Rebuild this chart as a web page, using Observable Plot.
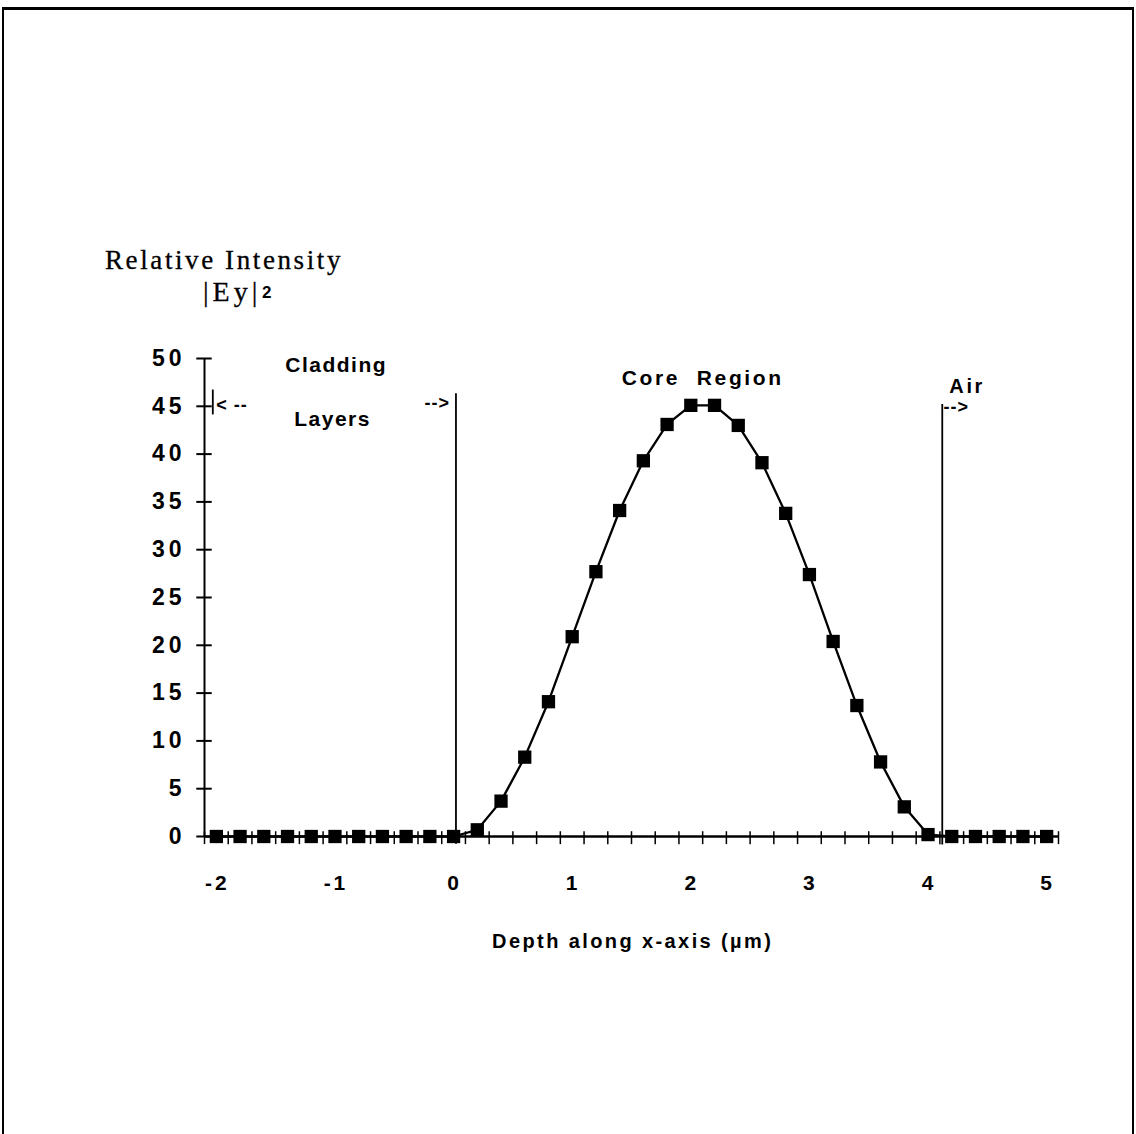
<!DOCTYPE html>
<html><head><meta charset="utf-8">
<script src="https://cdn.jsdelivr.net/npm/d3@7"></script>
<script src="https://cdn.jsdelivr.net/npm/@observablehq/plot@0.6"></script>
<style>
html,body{margin:0;padding:0;background:#fff;}
#wrap{position:relative;width:1136px;height:1134px;overflow:hidden;background:#fff;}
#border{position:absolute;left:2px;top:7px;width:1132px;height:1140px;border-top:3px solid #000;border-left:2px solid #000;border-right:2px solid #000;box-sizing:border-box;pointer-events:none;}
#header{position:relative;height:330px;}
.t{position:absolute;white-space:pre;line-height:1;color:#000;}
#title{font-family:"Liberation Serif",serif;font-size:27px;letter-spacing:2.6px;left:105px;top:247px;-webkit-text-stroke:0.3px #000;}
#ey{font-family:"Liberation Serif",serif;font-size:28px;letter-spacing:4px;left:203px;top:278px;-webkit-text-stroke:0.3px #000;}
#sq{font-family:"Liberation Sans",Arial,sans-serif;font-size:17px;font-weight:bold;left:262px;top:284px;}
g[aria-description="ylabels"] text{letter-spacing:4px;}
g[aria-description="xlabels"] text{letter-spacing:3px;}
g[aria-description="clad"] text{letter-spacing:1.5px;}
g[aria-description="core"] text{letter-spacing:2.6px;}
g[aria-description="air"] text{letter-spacing:2.6px;}
g[aria-description="arrows"] text{letter-spacing:1px;}
g[aria-description="xtitle"] text{letter-spacing:2.4px;}
</style>
</head><body>
<div id="wrap">
  <div id="header">
    <span class="t" id="title">Relative Intensity</span>
    <span class="t" id="ey">|Ey|</span>
    <span class="t" id="sq">2</span>
  </div>
  <div id="chart"></div>
  <div id="border"></div>
</div>
<script>
// Data
const depth = [-2.0,-1.8,-1.6,-1.4,-1.2,-1.0,-0.8,-0.6,-0.4,-0.2,0.0,
  0.2,0.4,0.6,0.8,1.0,1.2,1.4,1.6,1.8,2.0,2.2,2.4,2.6,2.8,3.0,3.2,3.4,3.6,3.8,4.0,
  4.2,4.4,4.6,4.8,5.0];
const intensity = [0,0,0,0,0,0,0,0,0,0,0,
  0.7,3.7,8.3,14.1,20.9,27.7,34.1,39.3,43.1,45.1,45.1,43.0,39.1,33.8,27.4,20.4,13.7,7.8,3.1,0.2,
  0,0,0,0,0];
const xTickLabels = [-2,-1,0,1,2,3,4,5];
const yTickValues = [0,5,10,15,20,25,30,35,40,45,50];
const xMinorTicks = [-2.1,-1.9,-1.7,-1.5,-1.3,-1.1,-0.9,-0.7,-0.5,-0.3,-0.1,
  0.1,0.3,0.5,0.7,0.9,1.1,1.3,1.5,1.7,1.9,2.1,2.3,2.5,2.7,2.9,3.1,3.3,3.5,3.7,3.9,
  4.1,4.3,4.5,4.7,4.9,5.1];
const xLabel = "Depth along x-axis (\u00b5m)";

// Region annotations
const claddingNotes = [
  {text: "Cladding", x: -0.99, y: 49.3},
  {text: "Layers", x: -1.02, y: 43.6}
];
const coreNotes = [{text: "Core  Region", x: 2.10, y: 47.9}];
const airNotes = [{text: "Air", x: 4.33, y: 47.1}];
const leftArrows = [{text: "< --", x: -2.0, y: 45.1}, {text: "-->", x: 4.13, y: 44.9}];
const rightArrows = [{text: "-->", x: -0.03, y: 45.3}];
const boundaries = [
  {x: 0.02, y1: -0.8, y2: 46.3},
  {x: 4.12, y1: -0.9, y2: 45.2},
  {x: -2.03, y1: 44.1, y2: 46.7}
];
// axis geometry (in data units)
const axisX0 = -2.1, axisX1 = 5.1;
const yTickSpan = {x1: -2.165, x2: -2.035};
const xTickSpan = {y1: -0.85, y2: 0.5};

const data = depth.map((d, i) => ({depth: d, value: intensity[i]}));
const ink = {fill: "#000", fontWeight: "bold"};

const chart = Plot.plot({
  width: 1136,
  height: 804,
  marginLeft: 204,
  marginRight: 78,
  marginTop: 28,
  marginBottom: 298,
  x: {domain: [axisX0, axisX1], axis: null},
  y: {domain: [0, 50], axis: null},
  style: {fontFamily: "'Liberation Sans', Arial, sans-serif", color: "#000", background: "#fff", overflow: "visible"},
  marks: [
    Plot.ruleY([0], {x1: axisX0, x2: axisX1, stroke: "#000", strokeWidth: 2.5}),
    Plot.ruleX([axisX0], {y1: 0, y2: 50, stroke: "#000", strokeWidth: 2}),
    Plot.ruleX(xMinorTicks, {x: d => d, y1: xTickSpan.y1, y2: xTickSpan.y2, stroke: "#000", strokeWidth: 1.5}),
    Plot.ruleY(yTickValues, {y: d => d, x1: yTickSpan.x1, x2: yTickSpan.x2, stroke: "#000", strokeWidth: 2}),
    Plot.text(xTickLabels, {x: d => d, y: 0, text: d => String(d), lineAnchor: "top", dy: 39, dx: 1, fontSize: 21, ...ink, ariaDescription: "xlabels"}),
    Plot.text(yTickValues, {x: axisX0, y: d => d, text: d => String(d), textAnchor: "end", dx: -19, fontSize: 23, ...ink, ariaDescription: "ylabels"}),
    Plot.ruleX(boundaries, {x: "x", y1: "y1", y2: "y2", stroke: "#000", strokeWidth: 1.8}),
    Plot.line(data, {x: "depth", y: "value", stroke: "#000", strokeWidth: 2.3}),
    Plot.dot(data, {x: "depth", y: "value", symbol: "square", r: 7.5, fill: "#000", stroke: null}),
    Plot.text(claddingNotes, {x: "x", y: "y", text: "text", fontSize: 21, ...ink, ariaDescription: "clad"}),
    Plot.text(coreNotes, {x: "x", y: "y", text: "text", fontSize: 21, ...ink, ariaDescription: "core"}),
    Plot.text(airNotes, {x: "x", y: "y", text: "text", fontSize: 20, ...ink, ariaDescription: "air"}),
    Plot.text(leftArrows, {x: "x", y: "y", text: "text", fontSize: 18, textAnchor: "start", ...ink, ariaDescription: "arrows"}),
    Plot.text(rightArrows, {x: "x", y: "y", text: "text", fontSize: 18, textAnchor: "end", ...ink, ariaDescription: "arrows"}),
    Plot.text([xLabel], {x: 1.51, y: 0, text: d => d, dy: 105, fontSize: 20, ...ink, ariaDescription: "xtitle"})
  ]
});
document.getElementById("chart").appendChild(chart);
</script>
</body></html>
